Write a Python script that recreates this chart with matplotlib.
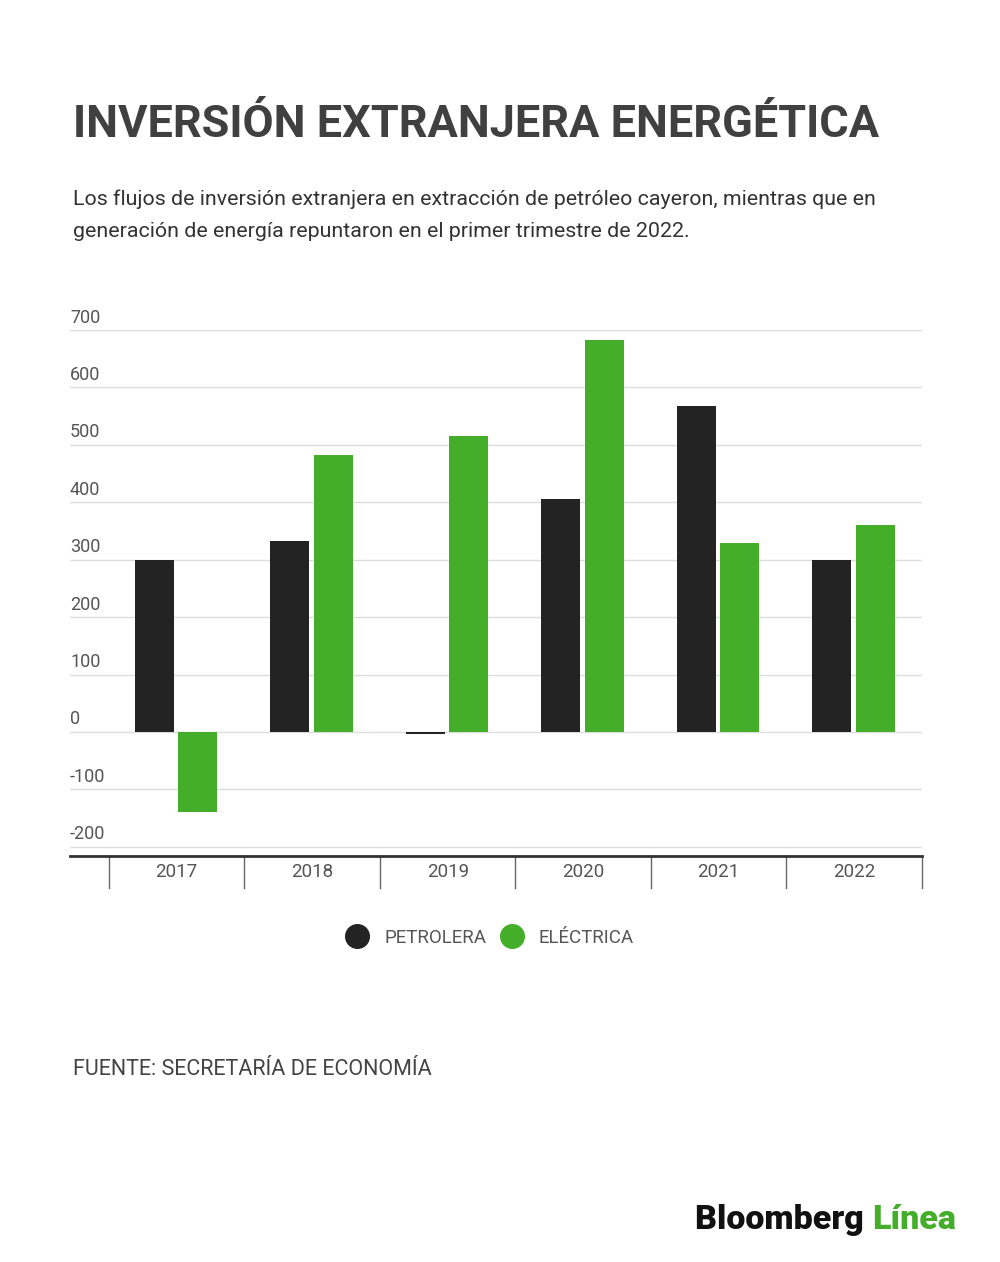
import matplotlib
matplotlib.use("Agg")
import matplotlib.pyplot as plt
from matplotlib.lines import Line2D
import numpy as np

years = ["2017", "2018", "2019", "2020", "2021", "2022"]
petrolera = [300, 333, -3, 405, 568, 299]
electrica = [-140, 482, 515, 682, 329, 361]
yticks = [-200, -100, 0, 100, 200, 300, 400, 500, 600, 700]

BLACK = "#232323"
GREEN = "#44ae2a"
GRID = "#dddddd"
TEXT = "#444444"

plt.rcParams["font.family"] = ["Roboto", "DejaVu Sans"]

fig = plt.figure(figsize=(10, 12.62), dpi=100)
H = 1262.0

def fy(px):
    return 1 - px / H

fig.text(0.073, fy(137), "INVERSIÓN EXTRANJERA ENERGÉTICA", fontsize=32.5,
         fontweight="bold", color="#404040", va="baseline", ha="left")
fig.text(0.073, fy(205), "Los flujos de inversión extranjera en extracción de petróleo cayeron, mientras que en",
         fontsize=15.4, color="#333333", va="baseline", ha="left")
fig.text(0.073, fy(237), "generación de energía repuntaron en el primer trimestre de 2022.",
         fontsize=15.4, color="#333333", va="baseline", ha="left")

ax = fig.add_axes([0.07, fy(856), 0.852, (856 - 330) / H])
x = np.arange(len(years))
w = 0.287
ax.bar(x - 0.165, petrolera, width=w, color=BLACK, zorder=3)
ax.bar(x + 0.155, electrica, width=w, color=GREEN, zorder=3)

ax.set_xlim(-0.787, 5.5)
ax.set_ylim(-216, 700)
for s in ["top", "left", "right"]:
    ax.spines[s].set_visible(False)
ax.spines["bottom"].set_color("#333333")
ax.spines["bottom"].set_linewidth(2)
ax.set_xticks([])
ax.set_yticks([])
for v in yticks:
    ax.axhline(v, color=GRID, linewidth=1, zorder=1)
    ax.annotate(str(v), xy=(0, v), xycoords=ax.get_yaxis_transform(),
                xytext=(0, 2.5), textcoords="offset points", ha="left", va="bottom",
                fontsize=13, color="#555555")

# category dividers and labels under the axis
trans = ax.get_xaxis_transform()
depth = 32 / (856 - 330)
for i in range(len(years) + 1):
    ax.plot([i - 0.5, i - 0.5], [0, -depth], transform=trans, color="#666666",
            linewidth=1, clip_on=False)
for i, yr in enumerate(years):
    ax.text(i, -16 / (856 - 330), yr, transform=trans, ha="center", va="center",
            fontsize=13.5, color="#555555")

handles = [Line2D([], [], marker="o", linestyle="", markersize=17, color=BLACK),
           Line2D([], [], marker="o", linestyle="", markersize=17, color=GREEN)]
fig.legend(handles, ["PETROLERA", "ELÉCTRICA"], loc="center",
           bbox_to_anchor=(0.49, fy(938)), ncol=2, frameon=False,
           fontsize=13.5, labelcolor="#555555", handletextpad=0.85,
           columnspacing=0.75, handlelength=1.2)

fig.text(0.073, fy(1075), "FUENTE: SECRETARÍA DE ECONOMÍA", fontsize=15.5,
         color=TEXT, va="baseline", ha="left")

t = fig.text(0.695, fy(1229), "Bloomberg ", fontsize=24.5, fontweight="heavy",
             color="#111111", va="baseline", ha="left")
fig.canvas.draw()
bb = t.get_window_extent()
fig.text(bb.x1 / fig.bbox.width, fy(1229), "Línea", fontsize=24.5, fontweight="heavy",
         color=GREEN, va="baseline", ha="left")

fig.savefig("out.png", dpi=100, facecolor="white")
